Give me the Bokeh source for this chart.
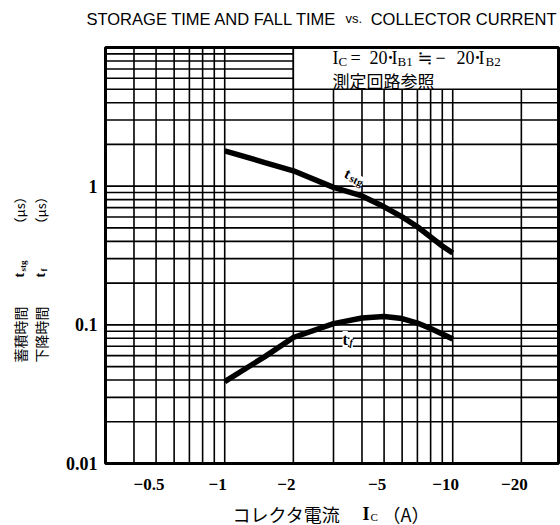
import numpy as np
from bokeh.plotting import figure
from bokeh.models import Label, Range1d
from bokeh.embed import file_html
from bokeh.resources import INLINE

# ---------------- data ----------------
ic = [1, 1.5, 2, 3, 4, 5, 6, 7, 8, 9, 10]                     # |I_C| (A)
t_stg = [1.80, 1.48, 1.29, 0.98, 0.85, 0.71, 0.60, 0.51, 0.43, 0.37, 0.33]   # us
t_f = [0.039, 0.059, 0.081, 0.102, 0.112, 0.115, 0.111, 0.103, 0.094, 0.086, 0.079]  # us

x_ticks = [0.5, 1, 2, 5, 10, 20]
x_tick_labels = ["−0.5", "−1", "−2", "−5", "−10", "−20"]
y_ticks = [0.01, 0.1, 1]
y_tick_labels = ["0.01", "0.1", "1"]
x_grid = [0.3, 0.4, 0.5, 0.6, 0.7, 0.8, 0.9, 1, 2, 3, 4, 5, 6, 7, 8, 9, 10, 20]
y_grid = [k * 10.0 ** e for e in (-2, -1, 0) for k in range(1, 10)] + [10]

# ---------------- geometry ----------------
W, H = 560, 525
FL, FR, FT, FB = 105, 558, 47, 463          # chart box in canvas pixels
DX = 228.0                                   # pixels per decade (x)
DY = (FB - FT) / 3.0                         # pixels per decade (y)
XMIN = 0.3
XMAX = 10 ** (np.log10(XMIN) + (FR - FL) / DX)
YMIN, YMAX = 0.01, 10.0
BOX_X0, BOX_Y0 = 2, 5                        # condition box lower-left corner

x_start = 10 ** (np.log10(XMIN) - FL / DX)
x_end = 10 ** (np.log10(XMIN) + (W - FL) / DX)
y_end = 10 ** (np.log10(YMAX) + FT / DY)
y_start = 10 ** (np.log10(YMIN) - (H - FB) / DY)

p = figure(width=W, height=H, x_axis_type="log", y_axis_type="log",
           x_range=Range1d(x_start, x_end), y_range=Range1d(y_start, y_end),
           output_backend="svg", toolbar_location=None,
           min_border=0, min_border_left=0, min_border_right=0,
           min_border_top=0, min_border_bottom=0)
p.axis.visible = False
p.grid.visible = False
p.outline_line_color = None
p.background_fill_color = "white"
p.border_fill_color = "white"

GW = 1.6
# grid lines
p.segment(x0=x_grid, y0=[YMIN] * len(x_grid), x1=x_grid, y1=[YMAX] * len(x_grid),
          line_color="black", line_width=GW)
p.segment(x0=[XMIN] * len(y_grid), y0=y_grid, x1=[XMAX] * len(y_grid), y1=y_grid,
          line_color="black", line_width=GW)
# condition box (covers grid)
p.quad(left=[BOX_X0], right=[XMAX], bottom=[BOX_Y0], top=[YMAX], fill_color="white",
       line_color="black", line_width=GW)
# chart outline
p.quad(left=[XMIN], right=[XMAX], bottom=[YMIN], top=[YMAX], fill_color=None,
       line_color="black", line_width=3)

# curves
p.line(ic, t_stg, line_width=5.5, line_color="black")
p.line(ic, t_f, line_width=5.5, line_color="black")

# tick labels
p.text(x=x_ticks, y=[YMIN] * len(x_ticks), text=x_tick_labels, y_offset=15, x_offset=-7,
       text_align="center", text_baseline="top", text_font_size="17px",
       text_font="Liberation Serif", text_font_style="bold", text_color="black")
p.text(x=[XMIN] * len(y_ticks), y=y_ticks, text=y_tick_labels, x_offset=-8,
       text_align="right", text_baseline="middle", text_font_size="18px",
       text_font="Liberation Serif", text_font_style="bold", text_color="black")

BASE_FIX = 6   # Label alphabetic baseline lands lower than requested


def txt(s, px, py, size, font="Liberation Serif", style="normal", align="left",
        baseline="alphabetic", angle=0.0, bg=None):
    y = py - BASE_FIX if baseline == "alphabetic" else py
    lab = Label(x=px, y=y, x_units="canvas", y_units="canvas", text=s,
                text_font=font, text_font_size=f"{size}px",
                text_font_style=style, text_align=align, text_baseline=baseline,
                angle=angle, text_color="black")
    if bg:
        lab.background_fill_color = bg
    p.add_layout(lab)


# title
TF = "Liberation Sans"
txt("STORAGE TIME AND FALL TIME", 86, 24, 16.5, TF)
txt("vs.", 345, 24, 13, TF)
txt("COLLECTOR CURRENT", 556, 24, 16.5, TF, align="right")

# condition text
S, SS = 18, 13
txt("I", 332, 63, S)
txt("C", 338, 67, SS)
txt("=", 350, 63, S)
txt("20", 369, 63, S)
txt("·", 387, 63, S, style="bold")
txt("I", 391, 63, S)
txt("B1", 397, 67, SS)
txt("≒", 417, 63, S, "DejaVu Serif")
txt("−", 435, 63, S)
txt("20", 456, 63, S)
txt("·", 474, 63, S, style="bold")
txt("I", 478, 63, S)
txt("B2", 485, 67, SS)
txt("測定回路参照", 332, 86, 17, "Noto Sans CJK JP")

# curve labels
A = -0.45
txt("t", 345, 178, 15, style="bold", angle=A, bg="white")
txt("stg", 350, 183, 11, style="bold", angle=A, bg="white")
txt("t", 342, 345, 16, style="bold", bg="white")
txt("f", 349, 348, 10, style="bold italic", bg="white")

# y axis title (two rotated columns)
R = np.pi / 2
for cx, head, sub in ((19, "蓄積時間", "stg"), (40, "下降時間", "f")):
    txt(head, cx, 362, 14, "Noto Sans CJK JP", angle=R, baseline="middle")
    txt("t", cx, 277, 14, style="bold", angle=R, baseline="middle")
    txt(sub, cx + 3, 271, 9, style="bold", angle=R, baseline="middle")
    txt("（μs）", cx, 230, 13, "Noto Sans CJK JP", angle=R, baseline="middle")

# x axis title
txt("コレクタ電流", 232, 519, 18, "Noto Sans CJK JP")
txt("I", 362, 519, 18, style="bold")
txt("C", 370, 522, 11)
txt("（A）", 382, 519, 18, "Noto Sans CJK JP")

open("out.html", "w").write(file_html(p, INLINE))
